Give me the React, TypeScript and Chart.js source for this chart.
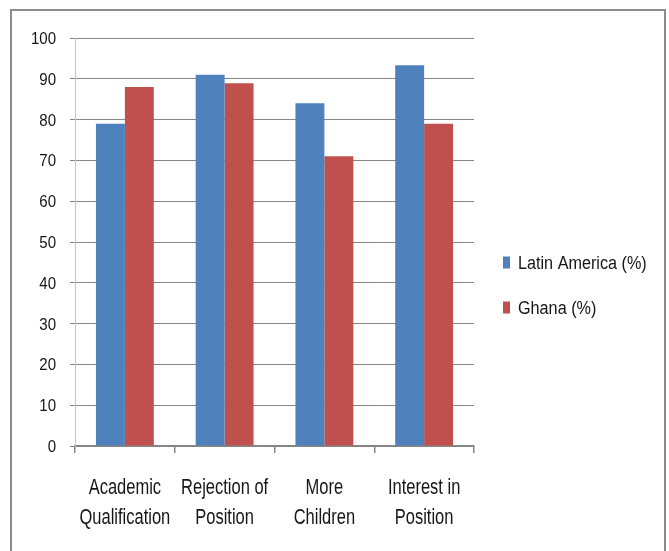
import { useEffect, useRef } from "react";
import { Chart, registerables } from "chart.js";

Chart.register(...registerables);

// Category labels (two lines each), series names and values
const categories: string[][] = [
  ["Academic", "Qualification"],
  ["Rejection of", "Position"],
  ["More", "Children"],
  ["Interest in", "Position"],
];
const seriesNames = ["Latin America (%)", "Ghana (%)"];
const latinAmerica = [79, 91, 84, 93.3];
const ghana = [88, 88.9, 71, 79];
const seriesColors = ["#4F81BD", "#C0504D"];
const yMin = 0;
const yMax = 100;
const yStep = 10;

const FONT = "'Liberation Sans', Arial, sans-serif";
const TEXT = "#161616";

// Draws text squeezed horizontally so it reads as a narrow typeface
function drawNarrow(
  ctx: CanvasRenderingContext2D,
  text: string,
  x: number,
  y: number,
  sx: number,
  align: CanvasTextAlign
) {
  ctx.save();
  ctx.translate(x, y);
  ctx.scale(sx, 1);
  ctx.textAlign = align;
  ctx.fillText(text, 0, 0);
  ctx.restore();
}

// Gray frame around the whole figure
const framePlugin = {
  id: "frame",
  beforeDraw(chart: Chart) {
    const { ctx, width, height } = chart;
    ctx.save();
    ctx.fillStyle = "#ffffff";
    ctx.fillRect(0, 0, width, height);
    ctx.strokeStyle = "#8c8c8c";
    ctx.lineWidth = 2;
    ctx.beginPath();
    ctx.moveTo(11, height);
    ctx.lineTo(11, 10);
    ctx.lineTo(665, 10);
    ctx.lineTo(665, height);
    ctx.stroke();
    ctx.restore();
  },
};

// Axis labels drawn in a narrow style at the scale positions
const axisLabelPlugin = {
  id: "axisLabels",
  afterDraw(chart: Chart) {
    const { ctx } = chart;
    const xScale: any = chart.scales.x;
    const yScale: any = chart.scales.y;
    ctx.save();
    ctx.fillStyle = TEXT;

    ctx.font = `16px ${FONT}`;
    ctx.textBaseline = "alphabetic";
    yScale.ticks.forEach((t: any) => {
      const y = yScale.getPixelForValue(t.value);
      drawNarrow(ctx, String(t.value), 56, y + 6, 0.94, "right");
    });

    ctx.font = `22px ${FONT}`;
    categories.forEach((lines, i) => {
      const x = xScale.getPixelForValue(i);
      lines.forEach((line, j) => {
        drawNarrow(ctx, line, x, xScale.top + 48 + j * 30, 0.75, "center");
      });
    });
    ctx.restore();
  },
};

// Legend on the right, one entry per dataset
const sideLegendPlugin = {
  id: "sideLegend",
  afterDraw(chart: Chart) {
    const { ctx } = chart;
    const x = 503;
    const rows = [262.5, 307.5];
    ctx.save();
    ctx.font = `18px ${FONT}`;
    ctx.textBaseline = "alphabetic";
    chart.data.datasets.forEach((ds, i) => {
      const y = rows[i];
      ctx.fillStyle = ds.backgroundColor as string;
      ctx.fillRect(x, y - 6, 7, 12);
      ctx.fillStyle = TEXT;
      drawNarrow(ctx, ds.label as string, x + 15, y + 6.5, 0.9, "left");
    });
    ctx.restore();
  },
};

export default function App() {
  const canvasRef = useRef<HTMLCanvasElement | null>(null);

  useEffect(() => {
    if (!canvasRef.current) return;
    const chart = new Chart(canvasRef.current, {
      type: "bar",
      data: {
        labels: categories,
        datasets: [
          {
            label: seriesNames[0],
            data: latinAmerica,
            backgroundColor: seriesColors[0],
            borderWidth: 0,
            categoryPercentage: 0.58,
            barPercentage: 1,
          },
          {
            label: seriesNames[1],
            data: ghana,
            backgroundColor: seriesColors[1],
            borderWidth: 0,
            categoryPercentage: 0.58,
            barPercentage: 1,
          },
        ],
      },
      options: {
        responsive: false,
        animation: false,
        devicePixelRatio: 1,
        layout: { padding: { left: 0, right: 195, top: 38, bottom: 0 } },
        plugins: {
          legend: { display: false },
          tooltip: { enabled: false },
        },
        scales: {
          x: {
            grid: {
              display: true,
              drawOnChartArea: false,
              drawTicks: true,
              tickLength: 7,
              color: "#868686",
              lineWidth: 1.5,
              offset: true,
            },
            border: { color: "#868686", width: 2 },
            ticks: {
              color: "rgba(0,0,0,0)",
              font: { family: FONT, size: 20 },
              maxRotation: 0,
              autoSkip: false,
            },
            afterFit: (s: any) => {
              s.height = 105;
            },
          },
          y: {
            min: yMin,
            max: yMax,
            ticks: {
              stepSize: yStep,
              color: "rgba(0,0,0,0)",
              font: { family: FONT, size: 16 },
            },
            grid: { color: "#868686", lineWidth: 1, tickLength: 5 },
            border: { color: "#c4c4c4", width: 1 },
            afterFit: (s: any) => {
              s.width = 75;
            },
          },
        },
      },
      plugins: [framePlugin, axisLabelPlugin, sideLegendPlugin],
    });
    return () => chart.destroy();
  }, []);

  return (
    <div style={{ position: "absolute", left: 0, top: 0, width: 669, height: 551, background: "#fff" }}>
      <canvas ref={canvasRef} width={669} height={551} style={{ display: "block" }} />
    </div>
  );
}
